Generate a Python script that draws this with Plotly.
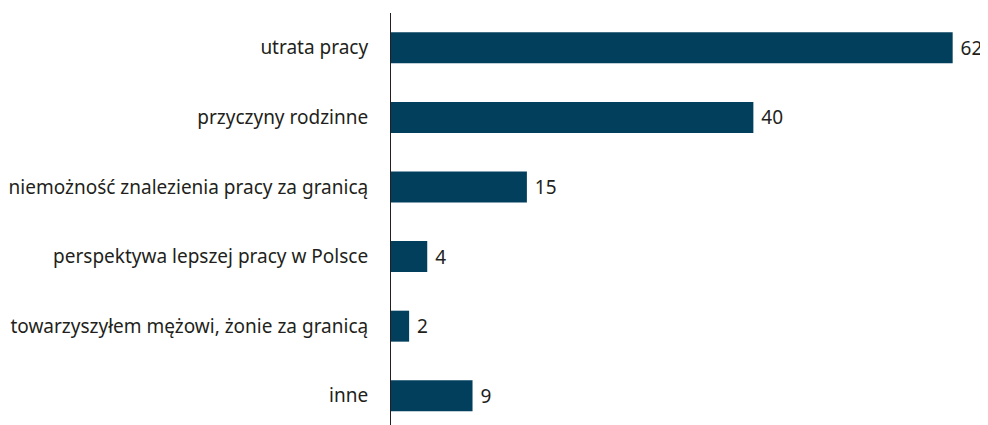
import plotly.graph_objects as go

categories = [
    "utrata pracy",
    "przyczyny rodzinne",
    "niemożność znalezienia pracy za granicą",
    "perspektywa lepszej pracy w Polsce",
    "towarzyszyłem mężowi, żonie za granicą",
    "inne",
]
values = [62, 40, 15, 4, 2, 9]

bar_color = "#023f5c"
text_color = "#231f20"

fig = go.Figure(
    go.Bar(
        x=values,
        y=categories,
        orientation="h",
        marker=dict(color=bar_color, line=dict(width=0)),
        width=0.445,
        text=[f" {v}" for v in values],
        textposition="outside",
        cliponaxis=False,
        textfont=dict(size=19, color=text_color),
    )
)

# the page body adds an 8px offset, so the figure is 8px smaller than the window
fig.update_layout(
    width=980,
    height=417,
    margin=dict(l=383, r=0, t=5, b=0),
    plot_bgcolor="white",
    paper_bgcolor="white",
    font=dict(family="Noto Sans", size=19, color=text_color),
    showlegend=False,
    xaxis=dict(
        range=[0, 65.9],
        visible=False,
        showgrid=False,
        zeroline=False,
    ),
    yaxis=dict(
        range=[5.42, -0.5],
        showgrid=False,
        zeroline=False,
        showline=True,
        linecolor="#231f20",
        linewidth=1,
        ticks="",
        ticklabelstandoff=18,
        tickfont=dict(size=19, color=text_color),
    ),
)

fig.write_html("out.html")
